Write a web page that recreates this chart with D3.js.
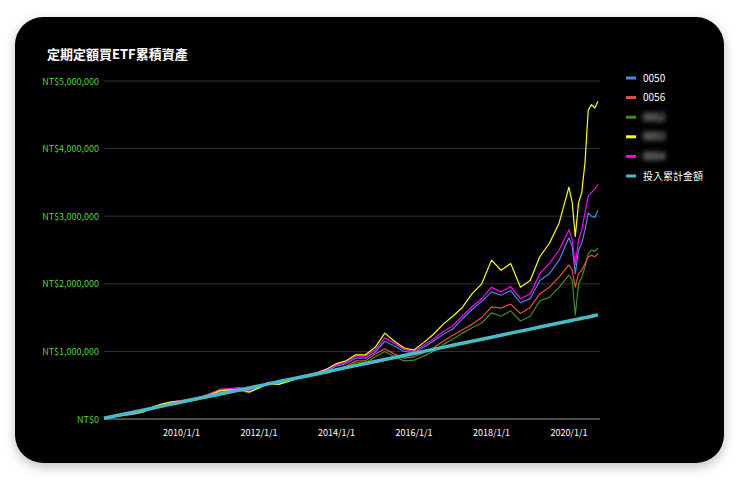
<!DOCTYPE html>
<html><head><meta charset="utf-8">
<script src="https://cdn.jsdelivr.net/npm/d3@7"></script>
<style>
body{margin:0;background:#fff;font-family:"Noto Sans CJK TC","Noto Sans",sans-serif;}
.blur{filter:blur(2.5px);}
</style></head><body>
<svg id="c" width="740" height="484"></svg>
<script>
const dates = ["2008-01","2008-04","2008-07","2008-10","2009-01","2009-04","2009-07","2009-10","2010-01","2010-04","2010-07","2010-10","2011-01","2011-04","2011-07","2011-10","2012-01","2012-04","2012-07","2012-10","2013-01","2013-04","2013-07","2013-10","2014-01","2014-04","2014-07","2014-10","2015-01","2015-04","2015-07","2015-10","2016-01","2016-04","2016-07","2016-10","2017-01","2017-04","2017-07","2017-10","2018-01","2018-04","2018-07","2018-10","2019-01","2019-04","2019-07","2019-10","2020-01","2020-02","2020-03","2020-04","2020-05","2020-06","2020-07","2020-08","2020-09","2020-10"];
// values in thousands NT$
const s0050 = [10,40,60,80,105,170,215,250,265,290,310,360,420,430,450,420,480,540,530,570,620,650,680,720,780,820,900,900,990,1150,1080,1000,980,1060,1150,1250,1330,1480,1620,1740,1880,1830,1900,1720,1780,2050,2150,2350,2680,2550,2150,2500,2600,2800,3050,3000,2980,3090];
const s0056 = [10,40,58,70,110,175,225,255,275,300,330,380,440,450,460,430,480,540,520,565,610,630,660,690,740,780,860,860,960,1040,960,900,920,980,1050,1150,1240,1320,1400,1500,1660,1640,1700,1560,1650,1850,1950,2100,2280,2200,1950,2150,2200,2300,2400,2420,2400,2450];
const sGreen = [10,38,55,68,100,160,205,240,260,285,305,350,400,415,420,390,460,520,510,550,600,620,650,680,720,760,830,830,920,1000,920,860,870,930,1000,1100,1180,1270,1350,1420,1570,1520,1600,1450,1520,1750,1800,1950,2130,2050,1540,2000,2100,2250,2450,2500,2480,2530];
const sYellow = [10,42,58,78,105,175,220,255,265,290,310,360,420,430,440,400,460,530,510,555,600,640,680,740,820,860,950,950,1060,1270,1150,1050,1020,1130,1250,1400,1520,1650,1850,2000,2350,2200,2300,1950,2050,2400,2600,2900,3430,3200,2700,3200,3350,3800,4570,4650,4600,4700];
const sMagenta = [10,38,55,72,100,165,215,250,270,300,320,370,440,445,460,420,480,545,530,570,620,655,690,740,800,840,930,930,1020,1200,1120,1030,1000,1090,1180,1290,1380,1520,1660,1780,1950,1880,1960,1780,1850,2150,2300,2500,2800,2650,2280,2650,2800,3050,3300,3350,3400,3470];
const invested = [10,40,70,100,130,160,190,220,250,280,310,340,370,400,430,460,490,520,550,580,610,640,670,700,730,760,790,820,850,880,910,940,970,1000,1030,1060,1090,1120,1150,1180,1210,1240,1270,1300,1330,1360,1390,1420,1450,1460,1470,1480,1490,1500,1510,1520,1530,1540];
const seriesNames = ["0050","0056","0052","0053","0054","投入累計金額"];
const seriesColors = ["#4a86e8","#e0533a","#3f8f1f","#ffff00","#ff00ff","#46bdc6"];
const yTicks = [0,1000,2000,3000,4000,5000];
const xTicks = ["2010-01-01","2012-01-01","2014-01-01","2016-01-01","2018-01-01","2020-01-01"];

const svg = d3.select("#c");
const defs = svg.append("defs");
const f = defs.append("filter").attr("id","sh").attr("x","-10%").attr("y","-10%").attr("width","120%").attr("height","130%");
f.append("feDropShadow").attr("dx",0).attr("dy",4).attr("stdDeviation",6).attr("flood-color","#000").attr("flood-opacity",0.25);
svg.append("rect").attr("x",15).attr("y",17).attr("width",709).attr("height",446).attr("rx",28).attr("fill","#000").attr("filter","url(#sh)");

svg.append("text").attr("x",47).attr("y",59).attr("fill","#fff").attr("font-size",13).attr("font-weight","bold").text("定期定額買ETF累積資產");

const parse = d3.timeParse("%Y-%m");
const dd = dates.map(parse);
const x = d3.scaleTime().domain([new Date(2008,0,1), new Date(2020,9,20)]).range([104,600]);
const y = d3.scaleLinear().domain([0,5000]).range([419,81]);

const g = svg.append("g");
yTicks.forEach(t=>{
  if(t>0) g.append("line").attr("x1",104).attr("x2",600).attr("y1",y(t)).attr("y2",y(t)).attr("stroke","#333").attr("stroke-width",1);
  g.append("text").attr("x",99).attr("y",y(t)+3.5).attr("text-anchor","end").attr("fill","#52d630").attr("font-size",9)
    .text(t===0?"NT$0":"NT$"+d3.format(",")(t*1000));
});
g.append("line").attr("x1",104).attr("x2",600).attr("y1",419).attr("y2",419).attr("stroke","#999");
xTicks.forEach(t=>{
  const d=new Date(t+"T00:00:00");
  g.append("text").attr("x",x(d)).attr("y",436).attr("text-anchor","middle").attr("fill","#fff").attr("font-size",9)
   .text(d.getFullYear()+"/1/1");
});

const all=[s0050,s0056,sGreen,sYellow,sMagenta,invested];
const line = d3.line().x((d,i)=>x(dd[i])).y(d=>y(d));
const order=[2,1,0,4,3,5];
order.forEach(k=>{
  svg.append("path").attr("d",line(all[k])).attr("fill","none").attr("stroke",seriesColors[k])
   .attr("stroke-width",k===5?3.5:1.2).attr("stroke-linejoin","round");
});

seriesNames.forEach((n,i)=>{
  const yy=78+i*19.6;
  svg.append("line").attr("x1",626).attr("x2",636).attr("y1",yy).attr("y2",yy).attr("stroke",seriesColors[i]).attr("stroke-width",3);
  svg.append("text").attr("x",643).attr("y",yy+3.5).attr("fill","#fff").attr("font-size",10)
    .attr("class",(i>=2&&i<=4)?"blur":null).text(n);
});
</script></body></html>
